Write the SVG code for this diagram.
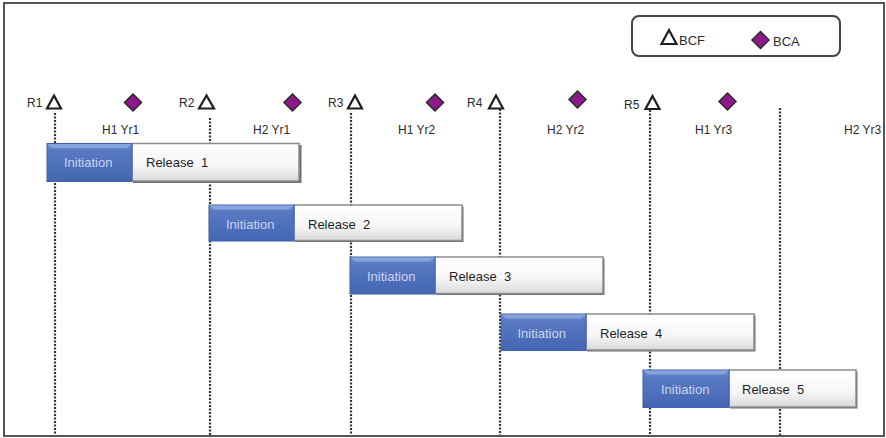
<svg xmlns="http://www.w3.org/2000/svg" width="886" height="438" viewBox="0 0 886 438">
  <style>
    .lbl { font-family: "Liberation Sans", Arial, sans-serif; font-size: 12px; fill: #2b2b2b; }
    .leg { font-family: "Liberation Sans", Arial, sans-serif; font-size: 13px; fill: #2b2b2b; }
    .init { font-family: "Liberation Sans", Arial, sans-serif; font-size: 13px; fill: #c9d5ef; }
    .rel { font-family: "Liberation Sans", Arial, sans-serif; font-size: 13px; fill: #1e1e1e; white-space: pre; }
    .bcf { fill: #fff; stroke: #1e1e1e; stroke-width: 2.2; stroke-linejoin: miter; }
    .bca { fill: #8d1a88; stroke: #2a2a2a; stroke-width: 1.5; }
    .guide { stroke: #333; stroke-width: 2.2; stroke-dasharray: 2 1.5; fill: none; }
    .blue { fill: url(#blueGrad); stroke: #3f61aa; stroke-width: 1; }
    .bevel { fill: #86a4dc; }
    .relbox { fill: url(#relGrad); stroke: #8c8c8c; stroke-width: 1.5; }
    .shadow { fill: #6e6e6e; }
  </style>
  <defs>
    <linearGradient id="blueGrad" x1="0" y1="0" x2="0" y2="1">
      <stop offset="0" stop-color="#6f90d2"/>
      <stop offset="0.2" stop-color="#5878c2"/>
      <stop offset="1" stop-color="#4466b2"/>
    </linearGradient>
    <linearGradient id="relGrad" x1="0" y1="0" x2="0" y2="1">
      <stop offset="0" stop-color="#ffffff"/>
      <stop offset="0.6" stop-color="#f6f6f6"/>
      <stop offset="1" stop-color="#d9d9d9"/>
    </linearGradient>
  </defs>

  <!-- frame -->
  <rect x="4" y="3" width="880" height="433" fill="#fff" stroke="#555" stroke-width="2"/>

  <!-- legend -->
  <g id="legend">
    <rect x="632" y="16" width="208" height="40" rx="7" fill="#fff" stroke="#444" stroke-width="2"/>
    <polygon class="bcf" points="669,30 661.5,44 676.5,44"/>
    <text class="leg" x="679" y="45">BCF</text>
    <polygon class="bca" points="760.5,31.5 769,40 760.5,48.5 752,40"/>
    <text class="leg" x="773" y="46">BCA</text>
  </g>

  <!-- dotted guides -->
  <g id="connectors">
    <line class="guide" x1="55" y1="113" x2="55" y2="435"/>
    <line class="guide" x1="210" y1="118" x2="210" y2="435"/>
    <line class="guide" x1="351" y1="113" x2="351" y2="435"/>
    <line class="guide" x1="500" y1="109" x2="500" y2="435"/>
    <line class="guide" x1="650" y1="110" x2="650" y2="435"/>
    <line class="guide" x1="780" y1="108" x2="780" y2="435"/>
  </g>

  <!-- milestones -->
  <g id="milestones">
    <text class="lbl" x="27" y="107">R1</text>
    <polygon class="bcf" points="54,95.5 47,108.5 61,108.5"/>
    <polygon class="bca" points="133,94 141.5,102.5 133,111 124.5,102.5"/>
    <text class="lbl" x="102" y="134">H1 Yr1</text>

    <text class="lbl" x="179" y="107">R2</text>
    <polygon class="bcf" points="206.5,95.5 199,108.5 214,108.5"/>
    <polygon class="bca" points="292.5,94 301,102.5 292.5,111 284,102.5"/>
    <text class="lbl" x="253" y="134">H2 Yr1</text>

    <text class="lbl" x="328" y="107">R3</text>
    <polygon class="bcf" points="355,95.5 348,108.5 362,108.5"/>
    <polygon class="bca" points="435,94 443.5,102.5 435,111 426.5,102.5"/>
    <text class="lbl" x="398" y="134">H1 Yr2</text>

    <text class="lbl" x="467" y="107">R4</text>
    <polygon class="bcf" points="496,95.5 489,108.5 503,108.5"/>
    <polygon class="bca" points="577.5,91 586,99.5 577.5,108 569,99.5"/>
    <text class="lbl" x="547" y="134">H2 Yr2</text>

    <text class="lbl" x="624" y="109">R5</text>
    <polygon class="bcf" points="652.5,96 645.5,109 659.5,109"/>
    <polygon class="bca" points="727.5,93 736,101.5 727.5,110 719,101.5"/>
    <text class="lbl" x="695" y="134">H1 Yr3</text>

    <text class="lbl" x="844" y="134">H2 Yr3</text>
  </g>

  <!-- release bars -->
  <g id="release1">
    <rect class="shadow" x="133" y="145" width="168.5" height="38"/>
    <rect class="relbox" x="132" y="143.5" width="167" height="37.5"/>
    <rect class="blue" x="47" y="143.5" width="85" height="38"/>
    <path class="bevel" d="M47.5,144 H131.5 L127,148 H52 Z"/>
    <text class="init" x="64" y="167">Initiation</text>
    <text class="rel" x="146" y="167">Release  1</text>
  </g>

  <g id="release2">
    <rect class="shadow" x="295" y="206.5" width="168.5" height="35.5"/>
    <rect class="relbox" x="294" y="205" width="168" height="35.5"/>
    <rect class="blue" x="209" y="205" width="85" height="36"/>
    <path class="bevel" d="M209.5,205.5 H293.5 L289,209.5 H214 Z"/>
    <text class="init" x="226" y="229">Initiation</text>
    <text class="rel" x="308" y="229">Release  2</text>
  </g>

  <g id="release3">
    <rect class="shadow" x="436" y="258.5" width="168.5" height="36.5"/>
    <rect class="relbox" x="435" y="257" width="168" height="36.5"/>
    <rect class="blue" x="350" y="257" width="85" height="37"/>
    <path class="bevel" d="M350.5,257.5 H434.5 L430,261.5 H355 Z"/>
    <text class="init" x="367" y="281">Initiation</text>
    <text class="rel" x="449" y="281">Release  3</text>
  </g>

  <g id="release4">
    <rect class="shadow" x="587" y="315.5" width="168.5" height="36"/>
    <rect class="relbox" x="586" y="314" width="168" height="36"/>
    <rect class="blue" x="501" y="314" width="85" height="36.5"/>
    <path class="bevel" d="M501.5,314.5 H585.5 L581,318.5 H506 Z"/>
    <text class="init" x="517.5" y="338">Initiation</text>
    <text class="rel" x="600" y="338">Release  4</text>
  </g>

  <g id="release5">
    <rect class="shadow" x="730" y="371.5" width="127.5" height="37"/>
    <rect class="relbox" x="729" y="370" width="127" height="37"/>
    <rect class="blue" x="643" y="370" width="86" height="37.5"/>
    <path class="bevel" d="M643.5,370.5 H728.5 L724,374.5 H648 Z"/>
    <text class="init" x="661" y="394">Initiation</text>
    <text class="rel" x="742" y="394">Release  5</text>
  </g>
</svg>
